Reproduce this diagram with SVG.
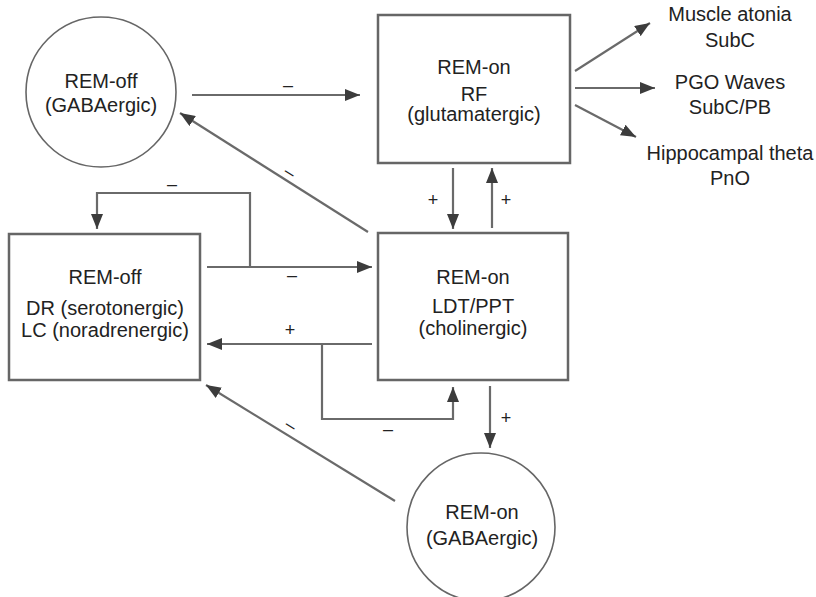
<svg xmlns="http://www.w3.org/2000/svg" width="816" height="597" viewBox="0 0 816 597">
<style>
text{font-family:"Liberation Sans",Arial,Helvetica,sans-serif;font-size:20px;fill:#222;text-anchor:middle}
.box{fill:#fff;stroke:#666;stroke-width:2.5}
.circ{fill:#fff;stroke:#666;stroke-width:1.6}
.c{fill:none;stroke:#6a6a6a;stroke-width:2.2;stroke-linecap:butt;stroke-linejoin:miter}
.a{marker-end:url(#ah)}
.lbl{font-size:18px}
</style>
<defs>
<marker id="ah" markerUnits="userSpaceOnUse" markerWidth="15" markerHeight="12" refX="15" refY="6" orient="auto">
<path d="M0,0 L15,6 L0,12 z" fill="#3c3c3c"/>
</marker>
</defs>
<rect width="816" height="597" fill="#fff"/>

<g id="connectors">
<line class="c a" x1="192" y1="95" x2="360" y2="95"/>
<line class="c a" x1="575" y1="71" x2="650" y2="23"/>
<line class="c a" x1="575" y1="88" x2="655" y2="88"/>
<line class="c a" x1="575" y1="105" x2="636" y2="137"/>
<line class="c a" x1="453" y1="168" x2="453" y2="229"/>
<line class="c a" x1="492" y1="228" x2="492" y2="168"/>
<line class="c a" x1="490" y1="386" x2="490" y2="448"/>
<line class="c a" x1="368" y1="232" x2="180" y2="113"/>
<line class="c a" x1="395" y1="501" x2="206" y2="385"/>
<line class="c a" x1="207" y1="267" x2="372" y2="267"/>
<polyline class="c a" points="250,267 250,193 97,193 97,229"/>
<line class="c a" x1="372" y1="344" x2="207" y2="344"/>
<polyline class="c a" points="322,344 322,419 453,419 453,387"/>
<text class="lbl" x="288" y="91">–</text>
<text class="lbl" x="172" y="190">–</text>
<text class="lbl" x="292" y="281">–</text>
<text class="lbl" x="290" y="336">+</text>
<text class="lbl" x="388" y="435">–</text>
<text class="lbl" x="433" y="206">+</text>
<text class="lbl" x="506" y="206">+</text>
<text class="lbl" x="506" y="424">+</text>
<text class="lbl" transform="translate(290,172) rotate(32)" y="6">–</text>
<text class="lbl" transform="translate(291,425) rotate(32)" y="6">–</text>
</g>

<g id="remoff-gaba">
<circle class="circ" cx="101" cy="92" r="75"/>
<text x="101" y="88">REM-off</text>
<text x="101" y="112">(GABAergic)</text>
</g>

<g id="remon-rf">
<rect class="box" x="378" y="15" width="192" height="148"/>
<text x="474" y="74">REM-on</text>
<text x="474" y="101">RF</text>
<text x="474" y="121">(glutamatergic)</text>
</g>

<g id="out-atonia">
<text x="730" y="21">Muscle atonia</text>
<text x="730" y="47">SubC</text>
</g>
<g id="out-pgo">
<text x="730" y="89">PGO Waves</text>
<text x="730" y="114">SubC/PB</text>
</g>
<g id="out-theta">
<text x="730" y="160">Hippocampal theta</text>
<text x="730" y="185">PnO</text>
</g>

<g id="remoff-drlc">
<rect class="box" x="9" y="234" width="191" height="146"/>
<text x="105" y="284">REM-off</text>
<text x="105" y="315">DR (serotonergic)</text>
<text x="105" y="337">LC (noradrenergic)</text>
</g>

<g id="remon-ldt">
<rect class="box" x="378" y="233" width="190" height="147"/>
<text x="473" y="284">REM-on</text>
<text x="473" y="313">LDT/PPT</text>
<text x="473" y="335">(cholinergic)</text>
</g>

<g id="remon-gaba">
<circle class="circ" cx="481" cy="527" r="74"/>
<text x="482" y="519">REM-on</text>
<text x="482" y="545">(GABAergic)</text>
</g>
</svg>
